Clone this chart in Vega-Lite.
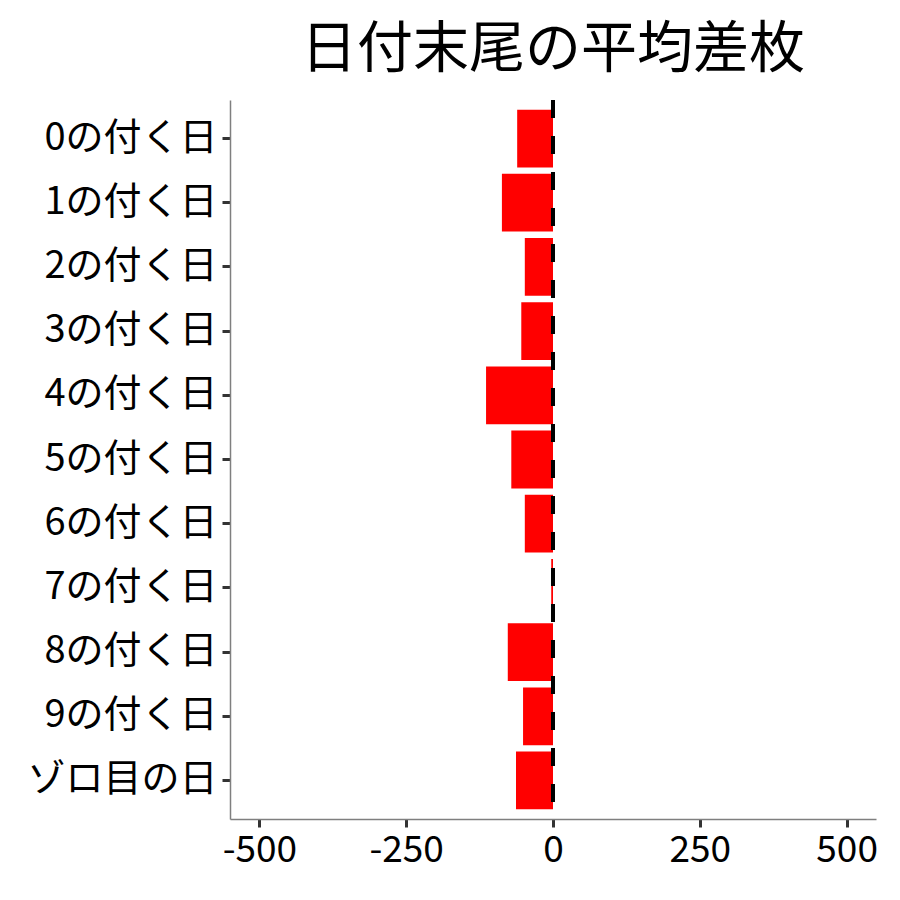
{
  "$schema": "https://vega.github.io/schema/vega-lite/v6.json",
  "width": 646,
  "height": 719,
  "autosize": {"type": "none"},
  "padding": {"left": 230, "top": 100, "right": 24, "bottom": 81},
  "background": "white",
  "title": {
    "text": "日付末尾の平均差枚",
    "font": "Noto Sans CJK JP",
    "fontSize": 56,
    "fontWeight": "normal",
    "color": "black",
    "anchor": "middle",
    "offset": 20
  },
  "data": {
    "values": [
      {"day": "0の付く日", "diff": -61},
      {"day": "1の付く日", "diff": -87},
      {"day": "2の付く日", "diff": -48},
      {"day": "3の付く日", "diff": -54},
      {"day": "4の付く日", "diff": -114},
      {"day": "5の付く日", "diff": -71},
      {"day": "6の付く日", "diff": -48},
      {"day": "7の付く日", "diff": -3},
      {"day": "8の付く日", "diff": -77},
      {"day": "9の付く日", "diff": -51},
      {"day": "ゾロ目の日", "diff": -63}
    ]
  },
  "layer": [
    {
      "mark": {"type": "bar", "color": "#ff0000"},
      "encoding": {
        "y": {
          "field": "day",
          "type": "nominal",
          "sort": null,
          "title": null,
          "scale": {"paddingInner": 0.1, "paddingOuter": 0.15},
          "axis": {"labelFontSize": 38, "labelPadding": 5, "labelLimit": 400}
        },
        "x": {
          "field": "diff",
          "type": "quantitative",
          "title": null,
          "scale": {"domain": [-550, 550], "nice": false, "zero": false},
          "axis": {
            "values": [-500, -250, 0, 250, 500],
            "labelExpr": "'' + datum.value",
            "labelFontSize": 37,
            "labelPadding": 5,
            "grid": false
          }
        }
      }
    },
    {
      "mark": {"type": "rule", "color": "black", "strokeWidth": 3, "strokeDash": [18, 18]},
      "encoding": {"x": {"datum": 0}}
    }
  ],
  "config": {
    "font": "Noto Sans CJK JP",
    "view": {"stroke": null},
    "axis": {
      "domainColor": "#7f7f7f",
      "domainWidth": 1.5,
      "tickColor": "#333333",
      "tickWidth": 3,
      "tickSize": 8,
      "labelColor": "black",
      "labelFont": "Noto Sans CJK JP",
      "grid": false
    }
  }
}
